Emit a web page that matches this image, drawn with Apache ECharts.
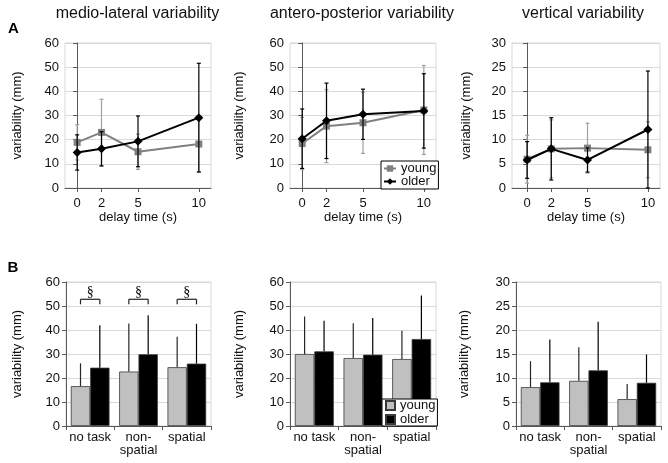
<!DOCTYPE html>
<html><head><meta charset="utf-8">
<script src="https://cdn.jsdelivr.net/npm/echarts@6/dist/echarts.min.js"></script>
<style>html,body{margin:0;padding:0;background:#fff}#c{width:668px;height:463px}</style>
</head><body><div id="c"></div>
<script>
// ---- data ----
const delays = [0, 2, 5, 10];
const mlYoung = [18.9, 23.0, 15.0, 18.2], mlYoungSD = [7.3, 13.7, 7.3, 11.5];
const mlOlder = [14.7, 16.2, 19.3, 29.1], mlOlderSD = [7.3, 7.1, 10.5, 22.5];
const apYoung = [18.4, 25.6, 27.0, 32.3], apYoungSD = [10.8, 15.1, 12.7, 18.4];
const apOlder = [20.4, 27.8, 30.5, 31.9], apOlderSD = [12.3, 15.6, 10.4, 15.4];
const vYoung = [5.95, 8.1, 8.25, 7.9], vYoungSD = [4.95, 6.0, 5.15, 5.8];
const vOlder = [5.8, 8.1, 5.8, 12.1], vOlderSD = [3.8, 6.45, 2.5, 12.1];

const tasks = ['no task', 'non-\nspatial', 'spatial'];
const mlBarYoung = [16.6, 22.7, 24.5], mlBarYoungSD = [9.5, 20.0, 12.7];
const mlBarOlder = [24.3, 29.9, 26.0], mlBarOlderSD = [17.7, 16.2, 16.6];
const apBarYoung = [30.0, 28.3, 27.9], apBarYoungSD = [15.6, 14.5, 11.8];
const apBarOlder = [31.1, 29.7, 36.25], apBarOlderSD = [12.8, 15.3, 18.15];
const vBarYoung = [8.1, 9.4, 5.6], vBarYoungSD = [5.4, 7.0, 3.15];
const vBarOlder = [9.1, 11.6, 9.0], vBarOlderSD = [8.9, 10.1, 5.9];

const sigTasks = [0, 1, 2];
const sigLevel = 52.8;
const sigMark = '§';
const titles = ['medio-lateral variability', 'antero-posterior variability', 'vertical variability'];
const yName = 'variability (mm)';
const xName = 'delay time (s)';

// ---- chart ----
const FONT = '"Liberation Sans", Arial, sans-serif';
const AX = '#595959';
const chart = echarts.init(document.getElementById('c'));

const gridBoxes = [
  {left: 65, top: 43, width: 146, height: 145},
  {left: 290, top: 43, width: 146, height: 145},
  {left: 512, top: 43, width: 148, height: 145},
  {left: 66, top: 282, width: 145, height: 144},
  {left: 290, top: 282, width: 146, height: 144},
  {left: 516, top: 282, width: 145, height: 144}
];
const grids = gridBoxes.map(g => Object.assign({show: true, borderColor: '#d9d9d9', borderWidth: 1, backgroundColor: 'transparent'}, g));

const txt = {fontFamily: FONT, fontSize: 13, color: '#111'};

function yAx(gi, max, interval, gap) {
  return {type: 'value', gridIndex: gi, min: 0, max: max, interval: interval,
    name: yName, nameLocation: 'middle', nameGap: gap, nameRotate: 90, nameTextStyle: txt,
    axisLine: {show: true, lineStyle: {color: AX, width: 1}},
    axisTick: {show: true, inside: false, length: 4, lineStyle: {color: AX}},
    axisLabel: Object.assign({margin: 6}, txt),
    splitLine: {show: true, lineStyle: {color: '#d9d9d9', width: 1}}};
}
function xTop(gi, min) {
  return {type: 'value', gridIndex: gi, min: min, max: 11,
    name: xName, nameLocation: 'middle', nameGap: 20, nameTextStyle: txt,
    axisLine: {show: true, onZero: false, lineStyle: {color: AX}},
    axisTick: {show: true, customValues: delays, length: 4, lineStyle: {color: AX}},
    axisLabel: Object.assign({customValues: delays, margin: 9}, txt),
    splitLine: {show: false}};
}
function xBot(gi) {
  return {type: 'category', gridIndex: gi, data: tasks, boundaryGap: true,
    axisLine: {show: true, lineStyle: {color: AX}},
    axisTick: {show: true, alignWithLabel: false, length: 4, lineStyle: {color: AX}},
    axisLabel: Object.assign({interval: 0, margin: 5, lineHeight: 13}, txt),
    splitLine: {show: false}};
}

function errTop(gi, means, sds, color, z) {
  return {type: 'custom', xAxisIndex: gi, yAxisIndex: gi, z: z, clip: false, silent: true,
    data: delays.map((d, i) => [d, means[i], sds[i]]),
    renderItem: function (params, api) {
      const x = api.value(0), m = api.value(1), s = api.value(2);
      const pt = api.coord([x, m + s]), pb = api.coord([x, Math.max(0, m - s)]);
      const c = 2, st = {stroke: color, lineWidth: 1.2};
      return {type: 'group', children: [
        {type: 'line', shape: {x1: pt[0], y1: pt[1], x2: pb[0], y2: pb[1]}, style: st},
        {type: 'line', shape: {x1: pt[0] - c, y1: pt[1], x2: pt[0] + c, y2: pt[1]}, style: st},
        {type: 'line', shape: {x1: pb[0] - c, y1: pb[1], x2: pb[0] + c, y2: pb[1]}, style: st}
      ]};
    }};
}
function lineS(gi, name, means, color, symbol, size, z) {
  return {type: 'line', name: name, xAxisIndex: gi, yAxisIndex: gi, z: z,
    data: delays.map((d, i) => [d, means[i]]),
    symbol: symbol, symbolSize: size, showSymbol: true,
    lineStyle: {color: color, width: 2}, itemStyle: {color: color}};
}
function barS(gi, name, vals, color) {
  return {type: 'bar', name: name, xAxisIndex: gi, yAxisIndex: gi, z: 2,
    data: vals, barGap: '0%', barCategoryGap: '20%',
    itemStyle: {color: color, borderColor: '#3a3a3a', borderWidth: 0.8}};
}
function errBar(gi, means, sds, sign, color) {
  return {type: 'custom', xAxisIndex: gi, yAxisIndex: gi, z: 3, clip: false, silent: true,
    data: means.map((m, i) => [i, m, sds[i]]),
    renderItem: function (params, api) {
      const i = api.value(0), m = api.value(1), s = api.value(2);
      const band = api.size([1, 0])[0];
      const off = sign * band * 0.2;
      const p0 = api.coord([i, m]), p1 = api.coord([i, m + s]);
      return {type: 'line', shape: {x1: p0[0] + off, y1: p0[1], x2: p1[0] + off, y2: p1[1]},
        style: {stroke: color, lineWidth: 1.2}};
    }};
}
function sigS(gi) {
  return {type: 'custom', xAxisIndex: gi, yAxisIndex: gi, z: 3, clip: false, silent: true,
    data: sigTasks.map(i => [i, sigLevel]),
    renderItem: function (params, api) {
      const i = api.value(0), v = api.value(1);
      const band = api.size([1, 0])[0];
      const off = band * 0.2;
      const p = api.coord([i, v]), pl = api.coord([i, v - 2.1]), pt = api.coord([i, v + 2.9]);
      const st = {stroke: '#222', lineWidth: 1.2};
      return {type: 'group', children: [
        {type: 'line', shape: {x1: p[0] - off, y1: p[1], x2: p[0] + off, y2: p[1]}, style: st},
        {type: 'line', shape: {x1: p[0] - off, y1: p[1], x2: p[0] - off, y2: pl[1]}, style: st},
        {type: 'line', shape: {x1: p[0] + off, y1: p[1], x2: p[0] + off, y2: pl[1]}, style: st},
        {type: 'text', style: {text: sigMark, x: p[0], y: pt[1], textAlign: 'center', textVerticalAlign: 'middle',
          font: '14px "Liberation Serif", "Times New Roman", serif', fill: '#000'}}
      ]};
    }};
}

const GRAY = '#808080', YERR = '#a0a0a0';
const series = [];
[[mlYoung, mlYoungSD, mlOlder, mlOlderSD], [apYoung, apYoungSD, apOlder, apOlderSD], [vYoung, vYoungSD, vOlder, vOlderSD]]
  .forEach((d, gi) => {
    series.push(errTop(gi, d[0], d[1], YERR, 2));
    series.push(lineS(gi, 'young', d[0], GRAY, 'rect', 7, 3));
    series.push(errTop(gi, d[2], d[3], '#000', 4));
    series.push(lineS(gi, 'older', d[2], '#000', 'diamond', 9, 5));
  });
[[mlBarYoung, mlBarYoungSD, mlBarOlder, mlBarOlderSD], [apBarYoung, apBarYoungSD, apBarOlder, apBarOlderSD], [vBarYoung, vBarYoungSD, vBarOlder, vBarOlderSD]]
  .forEach((d, k) => {
    const gi = k + 3;
    series.push(barS(gi, 'young ', d[0], '#c0c0c0'));
    series.push(barS(gi, 'older ', d[2], '#000000'));
    series.push(errBar(gi, d[0], d[1], -1, '#262626'));
    series.push(errBar(gi, d[2], d[3], 1, '#000'));
  });
series.push(sigS(3));

const option = {
  animation: false,
  backgroundColor: '#fff',
  grid: grids,
  xAxis: [xTop(0, -1), xTop(1, -1), xTop(2, -1.25), xBot(3), xBot(4), xBot(5)],
  yAxis: [yAx(0, 60, 10, 41), yAx(1, 60, 10, 44), yAx(2, 30, 5, 39), yAx(3, 60, 10, 42), yAx(4, 60, 10, 44), yAx(5, 30, 5, 45)],
  legend: [
    {data: ['young', 'older'], orient: 'vertical', left: 381, top: 161, z: 10,
      padding: [1, 2, 1, 2], itemGap: 0, itemWidth: 12, itemHeight: 8,
      borderColor: '#000', borderWidth: 1, borderRadius: 0, backgroundColor: '#fff',
      textStyle: {fontFamily: FONT, fontSize: 13, color: '#111', lineHeight: 12}, selectedMode: false},
    {data: ['young ', 'older '], orient: 'vertical', left: 382, top: 399, z: 10,
      padding: [0, 2, 0, 3], itemGap: 1, itemWidth: 9, itemHeight: 9, icon: 'rect',
      borderColor: '#000', borderWidth: 1, borderRadius: 0, backgroundColor: '#fff',
      formatter: n => n.trim(),
      textStyle: {fontFamily: FONT, fontSize: 13, color: '#111', lineHeight: 11}, selectedMode: false}
  ],
  graphic: [
    {type: 'text', x: 137.5, y: 14, style: {text: titles[0], font: '16px ' + FONT, fill: '#111', textAlign: 'center', textVerticalAlign: 'middle'}},
    {type: 'text', x: 362, y: 14, style: {text: titles[1], font: '16px ' + FONT, fill: '#111', textAlign: 'center', textVerticalAlign: 'middle'}},
    {type: 'text', x: 583, y: 14, style: {text: titles[2], font: '16px ' + FONT, fill: '#111', textAlign: 'center', textVerticalAlign: 'middle'}},
    {type: 'text', x: 13.5, y: 28.5, style: {text: 'A', font: 'bold 15px ' + FONT, fill: '#000', textAlign: 'center', textVerticalAlign: 'middle'}},
    {type: 'text', x: 13, y: 267.5, style: {text: 'B', font: 'bold 15px ' + FONT, fill: '#000', textAlign: 'center', textVerticalAlign: 'middle'}}
  ],
  series: series
};
chart.setOption(option);
</script>
</body></html>
